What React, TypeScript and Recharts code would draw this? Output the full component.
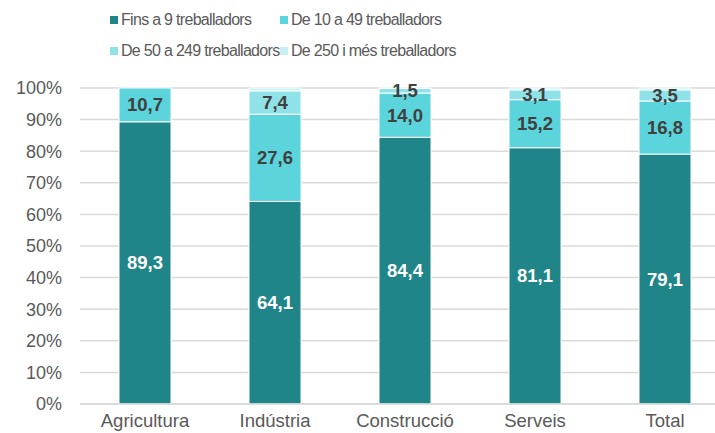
import React from 'react';
import { BarChart, Bar, XAxis, YAxis, CartesianGrid, LabelList } from 'recharts';

const categories = ['Agricultura', 'Indústria', 'Construcció', 'Serveis', 'Total'];
const fins9 = [89.3, 64.1, 84.4, 81.1, 79.1];
const de10a49 = [10.7, 27.6, 14.0, 15.2, 16.8];
const de50a249 = [0, 7.4, 1.5, 3.1, 3.5];
const de250 = [0, 0.9, 0.1, 0.6, 0.6];
const yTicks = [0, 10, 20, 30, 40, 50, 60, 70, 80, 90, 100];

const series = [
  { key: 'fins9', name: 'Fins a 9 treballadors', color: '#1f8589', label: '#ffffff' },
  { key: 'de10a49', name: 'De 10 a 49 treballadors', color: '#5bd4db', label: '#404040' },
  { key: 'de50a249', name: 'De 50 a 249 treballadors', color: '#8fe2e8', label: '#404040' },
  { key: 'de250', name: 'De 250 i més treballadors', color: '#c8f0f3', label: null },
];

const data = categories.map((name, i) => ({
  name,
  fins9: fins9[i],
  de10a49: de10a49[i],
  de50a249: de50a249[i],
  de250: de250[i],
}));

const fmt = (v: any) => (v ? Number(v).toFixed(1).replace('.', ',') : '');

const font = '"Liberation Sans", Arial, sans-serif';

export default function App() {
  return (
    <div style={{ position: 'absolute', left: 0, top: 0, width: 715, height: 433, overflow: 'hidden', fontFamily: font }}>
      <div
        style={{
          position: 'absolute',
          left: 110,
          top: 10,
          display: 'grid',
          gridTemplateColumns: '170px 200px',
          rowGap: 11,
          fontSize: 16,
          letterSpacing: -0.7,
          color: '#595959',
          whiteSpace: 'nowrap',
        }}
      >
        {series.map((s) => (
          <div key={s.key} style={{ display: 'flex', alignItems: 'center', height: 20 }}>
            <span style={{ width: 8, height: 8, background: s.color, marginRight: 3, display: 'inline-block' }} />
            <span>{s.name}</span>
          </div>
        ))}
      </div>
      <BarChart
        width={740}
        height={433}
        data={data}
        margin={{ top: 88, right: 10, left: 0, bottom: 4 }}
        barSize={52}
      >
        <CartesianGrid vertical={false} stroke="#d9d9d9" strokeWidth={1.5} />
        <XAxis
          dataKey="name"
          height={25}
          axisLine={{ stroke: '#d9d9d9', strokeWidth: 1.5 }}
          tickLine={false}
          tick={{ fill: '#595959', fontSize: 18.5, fontFamily: font }}
          tickMargin={4}
        />
        <YAxis
          width={80}
          domain={[0, 100]}
          ticks={yTicks}
          axisLine={false}
          tickLine={false}
          tickFormatter={(v) => `${v}%`}
          tick={{ fill: '#595959', fontSize: 18, fontFamily: font }}
          tickMargin={12}
        />
        {series.map((s) => (
          <Bar
            key={s.key}
            dataKey={s.key}
            name={s.name}
            stackId="a"
            fill={s.color}
            stroke="#ffffff"
            strokeWidth={1}
            isAnimationActive={false}
          >
            {s.label && (
              <LabelList
                dataKey={s.key}
                position="center"
                formatter={fmt}
                fill={s.label}
                style={{ fontSize: 18.5, fontWeight: 'bold', fontFamily: font }}
              />
            )}
          </Bar>
        ))}
      </BarChart>
    </div>
  );
}
